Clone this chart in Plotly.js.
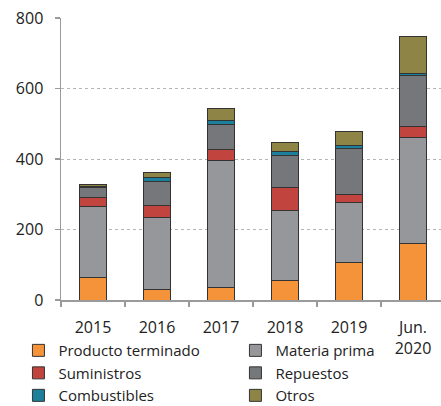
<!DOCTYPE html>
<html>
<head>
<meta charset="utf-8">
<script src="https://cdn.plot.ly/plotly-3.0.1.min.js"></script>
<style>
  html, body { margin: 0; padding: 0; overflow: hidden; background: #fff; }
  #chart { width: 441px; height: 406px; }
</style>
</head>
<body>
<div id="chart"></div>
<script>
// === Datos (millones) ===
const categorias = ["2015", "2016", "2017", "2018", "2019", "Jun.<br>2020"];
const productoTerminado = [65, 31, 35, 54, 106, 161];
const materiaPrima = [199, 202, 360, 199, 172, 299];
const suministros = [28, 34, 33, 65, 22, 31];
const repuestos = [26, 69, 71, 93, 129, 145];
const combustibles = [4, 12, 11, 10, 10, 6];
const otros = [7, 14, 33, 25, 38, 106];

const series = [
  { name: "Producto terminado", y: productoTerminado, color: "#F4933A" },
  { name: "Materia prima", y: materiaPrima, color: "#96979A" },
  { name: "Suministros", y: suministros, color: "#C2443F" },
  { name: "Repuestos", y: repuestos, color: "#76777B" },
  { name: "Combustibles", y: combustibles, color: "#1C7F9B" },
  { name: "Otros", y: otros, color: "#8D8446" }
];

const traces = series.map(s => ({
  type: "bar",
  x: categorias,
  y: s.y,
  name: s.name,
  width: 0.41,
  marker: { color: s.color, line: { color: "#333333", width: 1 } },
  hoverinfo: "none"
}));

const fuente = { family: "Open Sans, sans-serif", color: "#222222" };

Plotly.newPlot("chart", traces, {
  width: 441,
  height: 406,
  barmode: "stack",
  margin: { l: 61, r: 0, t: 18, b: 106, autoexpand: false },
  paper_bgcolor: "#ffffff",
  plot_bgcolor: "#ffffff",
  font: Object.assign({ size: 16 }, fuente),
  showlegend: true,
  legend: {
    orientation: "h",
    traceorder: "normal",
    x: -0.112,
    xanchor: "left",
    y: -0.121,
    yanchor: "top",
    bgcolor: "rgba(0,0,0,0)",
    entrywidth: 172,
    entrywidthmode: "pixels",
    font: Object.assign({ size: 15 }, fuente),
    tracegroupgap: 0,
    itemclick: false
  },
  xaxis: {
    type: "category",
    range: [-0.5, 5.4375],
    tickson: "boundaries",
    ticks: "outside",
    ticklen: 5,
    tickcolor: "#9a9a9a",
    tickwidth: 1.5,
    showline: true,
    linecolor: "#9a9a9a",
    linewidth: 1.5,
    showgrid: false,
    ticklabelstandoff: 12,
    tickfont: Object.assign({ size: 16 }, fuente),
    fixedrange: true
  },
  yaxis: {
    range: [0, 800],
    tickvals: [0, 200, 400, 600, 800],
    ticks: "outside",
    ticklen: 5,
    tickcolor: "#9a9a9a",
    tickwidth: 1.5,
    showline: true,
    linecolor: "#9a9a9a",
    linewidth: 1.5,
    showgrid: true,
    gridcolor: "#b5b5b5",
    griddash: "dot",
    gridwidth: 1,
    zeroline: false,
    ticklabelstandoff: 8,
    tickfont: Object.assign({ size: 16 }, fuente),
    fixedrange: true
  }
}, { displayModeBar: false, staticPlot: true });
</script>
</body>
</html>
